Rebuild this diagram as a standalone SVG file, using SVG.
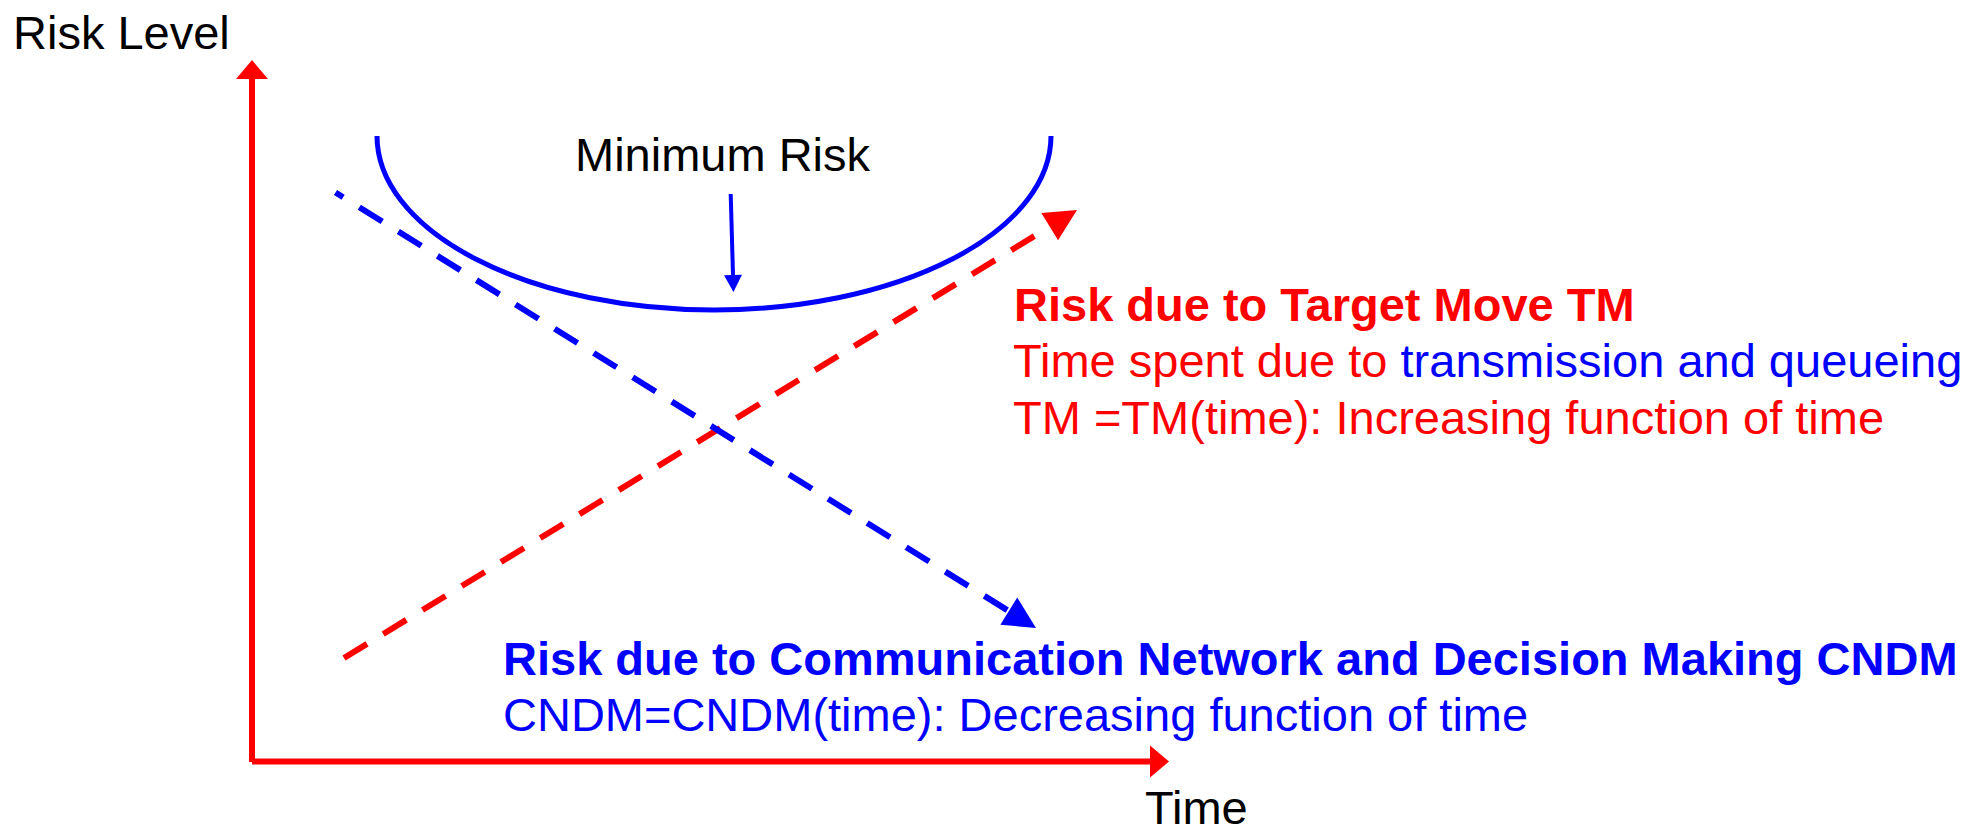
<svg xmlns="http://www.w3.org/2000/svg" width="1968" height="827" viewBox="0 0 1968 827">
  <style>
    text { font-family: "Liberation Sans", Arial, sans-serif; font-size: 47px; }
    .bold { font-weight: bold; }
    .red { fill: #FF0000; }
    .blue { fill: #0000FF; }
    .black { fill: #000000; }
    .axis { stroke: #FF0000; stroke-width: 6; fill: none; }
    .dashRed { stroke: #FF0000; stroke-width: 6; fill: none; stroke-dasharray: 27 19; }
    .dashBlue { stroke: #0000FF; stroke-width: 6; fill: none; stroke-dasharray: 27 19; stroke-dashoffset: 18; }
  </style>
  <defs>
    <marker id="axisHead" markerUnits="userSpaceOnUse" markerWidth="19" markerHeight="32" refX="0" refY="16" orient="auto" overflow="visible">
      <path d="M0,0 L19,16 L0,32 Z" fill="#FF0000"/>
    </marker>
    <marker id="redHead" markerUnits="userSpaceOnUse" markerWidth="32" markerHeight="32" refX="0" refY="16" orient="auto" overflow="visible">
      <path d="M0,0 L32,16 L0,32 Z" fill="#FF0000"/>
    </marker>
    <marker id="blueHead" markerUnits="userSpaceOnUse" markerWidth="32" markerHeight="32" refX="0" refY="16" orient="auto" overflow="visible">
      <path d="M0,0 L32,16 L0,32 Z" fill="#0000FF"/>
    </marker>
    <marker id="minHead" markerUnits="userSpaceOnUse" markerWidth="17" markerHeight="18" refX="0" refY="9" orient="auto" overflow="visible">
      <path d="M0,0 L17,9 L0,18 Z" fill="#0000FF"/>
    </marker>
  </defs>

  <g id="axes">
    <line class="axis" x1="252" y1="762" x2="252" y2="79" marker-end="url(#axisHead)"/>
    <line class="axis" x1="252" y1="761.5" x2="1150" y2="761.5" marker-end="url(#axisHead)"/>
  </g>

  <g id="axis-labels">
    <text id="label-risk-level" class="black" x="13" y="49">Risk Level</text>
    <text id="label-time" class="black" x="1145" y="824">Time</text>
  </g>

  <g id="total-risk-curve">
    <path d="M377,136 A337,174 0 0 0 1051,136" fill="none" stroke="#0000FF" stroke-width="5"/>
  </g>

  <g id="minimum-risk">
    <text class="black" x="575" y="171">Minimum Risk</text>
  </g>

  <g id="connectors">
    <line x1="730.7" y1="194" x2="733" y2="275" stroke="#0000FF" stroke-width="4" marker-end="url(#minHead)"/>
    <line class="dashRed" x1="344" y1="658" x2="1049.7" y2="226.7" marker-end="url(#redHead)"/>
    <line class="dashBlue" x1="335.5" y1="192.5" x2="1008.8" y2="611.1" marker-end="url(#blueHead)"/>
  </g>

  <g id="tm-label">
    <text class="red bold" x="1014" y="320.5">Risk due to Target Move TM</text>
    <text class="red" x="1013" y="377"><tspan>Time spent due to </tspan><tspan class="blue">transmission and queueing</tspan></text>
    <text class="red" x="1013" y="433.5">TM =TM(time): Increasing function of time</text>
  </g>

  <g id="cndm-label">
    <text class="blue bold" x="503" y="675">Risk due to Communication Network and Decision Making CNDM</text>
    <text class="blue" x="503" y="730.5">CNDM=CNDM(time): Decreasing function of time</text>
  </g>
</svg>
